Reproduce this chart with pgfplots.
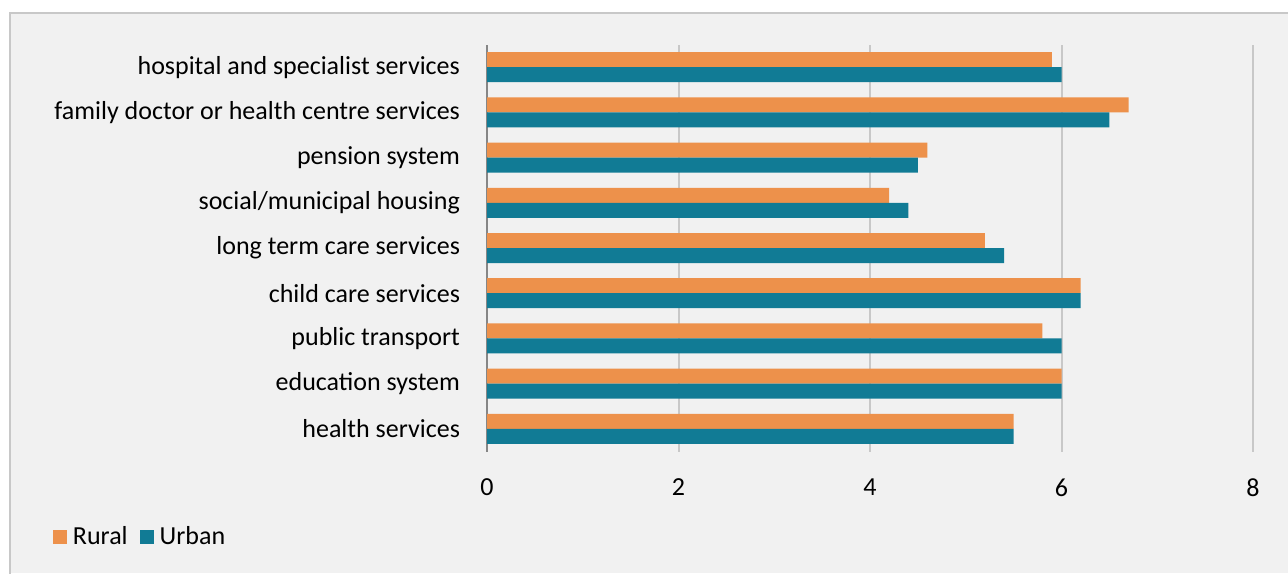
\documentclass[border=0pt]{standalone}
\usepackage{pgfplots}
\pgfplotsset{compat=1.18}
\usepackage{fontspec}
\setmainfont{Carlito}
\definecolor{rural}{RGB}{237,145,75}
\definecolor{urban}{RGB}{17,123,149}
\definecolor{panel}{RGB}{241,241,241}
\definecolor{frame}{RGB}{200,200,200}
\definecolor{gridc}{RGB}{200,200,200}
\definecolor{zeroax}{RGB}{134,134,134}
\begin{document}
\fontsize{13}{15}\selectfont
\begin{tikzpicture}
\useasboundingbox (0,0) rectangle (644pt,286.5pt);
\fill[white] (0,0) rectangle (644pt,286.5pt);
\fill[panel] (5pt,0) rectangle (644pt,280pt);
\draw[frame,line width=1pt] (5pt,-2pt) -- (5pt,280pt) -- (646pt,280pt);
\begin{axis}[
  at={(243.5pt,60.75pt)}, anchor=south west,
  width=383pt, height=203.5pt, scale only axis,
  xbar, bar width=7.5pt,
  xmin=0, xmax=8, ymin=-0.5, ymax=8.5,
  xtick={0,2,4,6,8},
  ytick={0,...,8},
  yticklabels={health services, education system, public transport, child care services, long term care services, social/municipal housing, pension system, family doctor or health centre services, hospital and specialist services},
  xmajorgrids=true, ymajorgrids=false,
  major x grid style={gridc, line width=1pt},
  axis x line*=bottom,
  axis y line*=left,
  x axis line style={draw=none},
  y axis line style={zeroax, line width=1pt, -},
  major tick length=0pt,
  tick style={draw=none},
  yticklabel style={font=\fontsize{13}{15}\selectfont, xshift=-9pt},
  xticklabel style={font=\fontsize{13}{15}\selectfont, yshift=-9pt},
  /pgf/number format/assume math mode=true,
  clip=false,
  legend columns=2,
  legend style={at={(-0.575,-0.21)}, anchor=west, draw=none, fill=none,
    font=\fontsize{13}{15}\selectfont, column sep=4pt,
    /tikz/every odd column/.style={column sep=1pt}},
  legend image code/.code={\fill[#1] (0pt,-3.5pt) rectangle (7pt,3.5pt);},
]
\addplot[fill=rural, draw=none, bar shift=3.75pt] coordinates {
 (5.5,0) (6.0,1) (5.8,2) (6.2,3) (5.2,4) (4.2,5) (4.6,6) (6.7,7) (5.9,8)};
\addlegendentry{Rural}
\addplot[fill=urban, draw=none, bar shift=-3.75pt] coordinates {
 (5.5,0) (6.0,1) (6.0,2) (6.2,3) (5.4,4) (4.4,5) (4.5,6) (6.5,7) (6.0,8)};
\addlegendentry{Urban}
\end{axis}
\end{tikzpicture}
\end{document}
